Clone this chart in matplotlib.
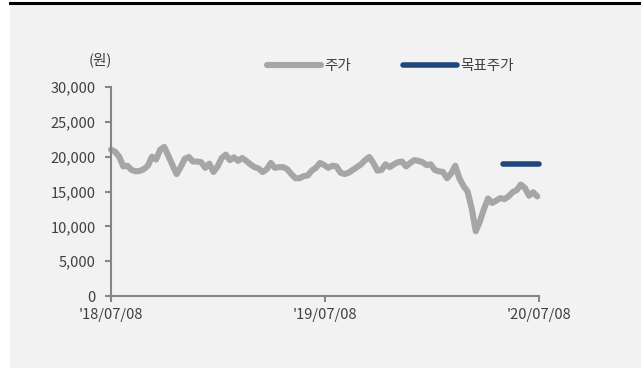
import matplotlib
matplotlib.use("Agg")
import matplotlib.pyplot as plt
import matplotlib.dates as mdates
import pandas as pd
from matplotlib.patches import Rectangle
from matplotlib.lines import Line2D

plt.rcParams['font.family'] = ['Noto Sans CJK KR', 'DejaVu Sans']

# weekly closing price (원)
price = [21000, 20700, 20000, 18600, 18700, 18100, 17900, 17950, 18200, 18700,
         20000, 19600, 21000, 21400, 20100, 18800, 17500, 18500, 19700, 19950,
         19300, 19300, 19200, 18400, 19000, 17800, 18600, 19800, 20300, 19500,
         19900, 19400, 19800, 19400, 18900, 18500, 18300, 17800, 18200, 19100,
         18400, 18500, 18500, 18200, 17500, 16900, 16900, 17200, 17300, 18000,
         18400, 19100, 18800, 18400, 18700, 18600, 17700, 17500, 17700, 18100,
         18500, 18900, 19500, 19950, 19100, 18000, 18100, 18900, 18500, 18900,
         19200, 19300, 18600, 19100, 19500, 19400, 19200, 18800, 18900, 18100,
         17900, 17800, 16900, 17600, 18700, 16900, 15800, 15000, 12600, 9300,
         10700, 12500, 14000, 13350, 13700, 14060, 13900, 14300, 14900, 15200,
         16000, 15500, 14400, 14900, 14300]
dates = pd.date_range('2018-07-08', periods=len(price), freq='7D')

target_dates = pd.to_datetime(['2020-05-07', '2020-07-08'])
target = [19000, 19000]

xticks = pd.to_datetime(['2018-07-08', '2019-07-08', '2020-07-08'])
yticks = [0, 5000, 10000, 15000, 20000, 25000, 30000]

W, H = 641, 369
fig = plt.figure(figsize=(W / 100, H / 100), dpi=100, facecolor='white')
fig.patches.append(Rectangle((10 / W, 1 / H), 631 / W, 364 / H, transform=fig.transFigure,
                             facecolor='#f2f2f2', edgecolor='none', zorder=-10))
fig.lines.append(Line2D([10 / W, 1], [1 - 3 / H, 1 - 3 / H], transform=fig.transFigure,
                        color='black', linewidth=2.2, zorder=-5))

ax = fig.add_axes([111 / W, 1 - 296 / H, 428 / W, 209 / H])
ax.set_facecolor('none')

gray = '#a6a6a6'
blue = '#1f497d'
ax.plot(dates, price, color=gray, linewidth=4.4, solid_capstyle='round',
        solid_joinstyle='round', clip_on=False, label='주가')
ax.plot(target_dates, target, color=blue, linewidth=4.0, solid_capstyle='round',
        clip_on=False, label='목표주가')

ax.set_xlim(xticks[0], xticks[-1])
ax.set_ylim(0, 30000)
ax.set_xticks(xticks)
ax.xaxis.set_major_formatter(mdates.DateFormatter("'%y/%m/%d"))
ax.set_yticks(yticks)
ax.set_yticklabels([f'{v:,}' for v in yticks])

for s in ['top', 'right']:
    ax.spines[s].set_visible(False)
for s in ['left', 'bottom']:
    ax.spines[s].set_color('#868686')
    ax.spines[s].set_linewidth(1.5)
ax.tick_params(axis='both', colors='#868686', length=4, width=1.5, labelsize=10.5,
               labelcolor='#404040')
ax.tick_params(axis='y', pad=7)
ax.tick_params(axis='x', pad=5)

fig.text(100 / W, 1 - 60 / H, '(원)', fontsize=10.5, color='#404040', ha='center', va='center')

fig.legend(loc='center left', bbox_to_anchor=(267 / W, 1 - 66 / H), ncol=2, frameon=False,
           fontsize=10.5, handlelength=3.7, handletextpad=0.2, columnspacing=3.6,
           borderpad=0, borderaxespad=0, labelcolor='#404040')

fig.savefig('out.png', dpi=100)
